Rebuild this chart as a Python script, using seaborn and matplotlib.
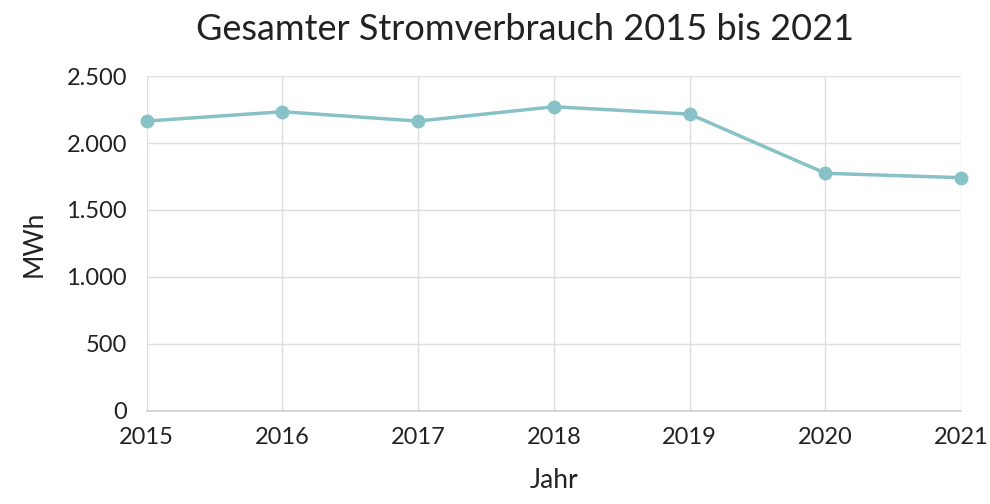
import matplotlib
matplotlib.use("Agg")
import matplotlib.pyplot as plt
import matplotlib.ticker as mticker
import pandas as pd
import seaborn as sns

years = [2015, 2016, 2017, 2018, 2019, 2020, 2021]
mwh = [2164, 2234, 2164, 2271, 2216, 1774, 1741]
y_ticks = [0, 500, 1000, 1500, 2000, 2500]

sns.set_theme(style="whitegrid")
plt.rcParams["font.family"] = ["Lato", "DejaVu Sans"]

df = pd.DataFrame({"Jahr": years, "MWh": mwh})

fig = plt.figure(figsize=(9.9, 5.04), dpi=100)
ax = fig.add_axes([0.148, 0.185, 0.823, 0.664])

sns.lineplot(data=df, x="Jahr", y="MWh", ax=ax, color="#88c2c6", linewidth=2.5,
             marker="o", markersize=10, markeredgewidth=0, clip_on=False, zorder=3)

ax.set_xlim(years[0], years[-1])
ax.set_ylim(y_ticks[0], y_ticks[-1])
ax.set_xticks(years)
ax.set_yticks(y_ticks)
ax.yaxis.set_major_formatter(mticker.FuncFormatter(lambda v, p: f"{int(v):,}".replace(",", ".")))

ax.grid(True, color="#dedede", linewidth=1)
for s in ["top", "right", "left"]:
    ax.spines[s].set_visible(False)
ax.spines["bottom"].set_color("#d0d0d0")
ax.tick_params(axis="both", length=0, labelsize=17, colors="#222222")
ax.tick_params(axis="x", pad=12)
ax.tick_params(axis="y", pad=14)

ax.set_xlabel("Jahr", fontsize=19, color="#222222", labelpad=14)
ax.set_ylabel("MWh", fontsize=19, color="#222222", labelpad=14)
fig.suptitle("Gesamter Stromverbrauch 2015 bis 2021", fontsize=26, color="#222222",
             x=0.53, y=0.975)

fig.savefig("out.png", dpi=100)
